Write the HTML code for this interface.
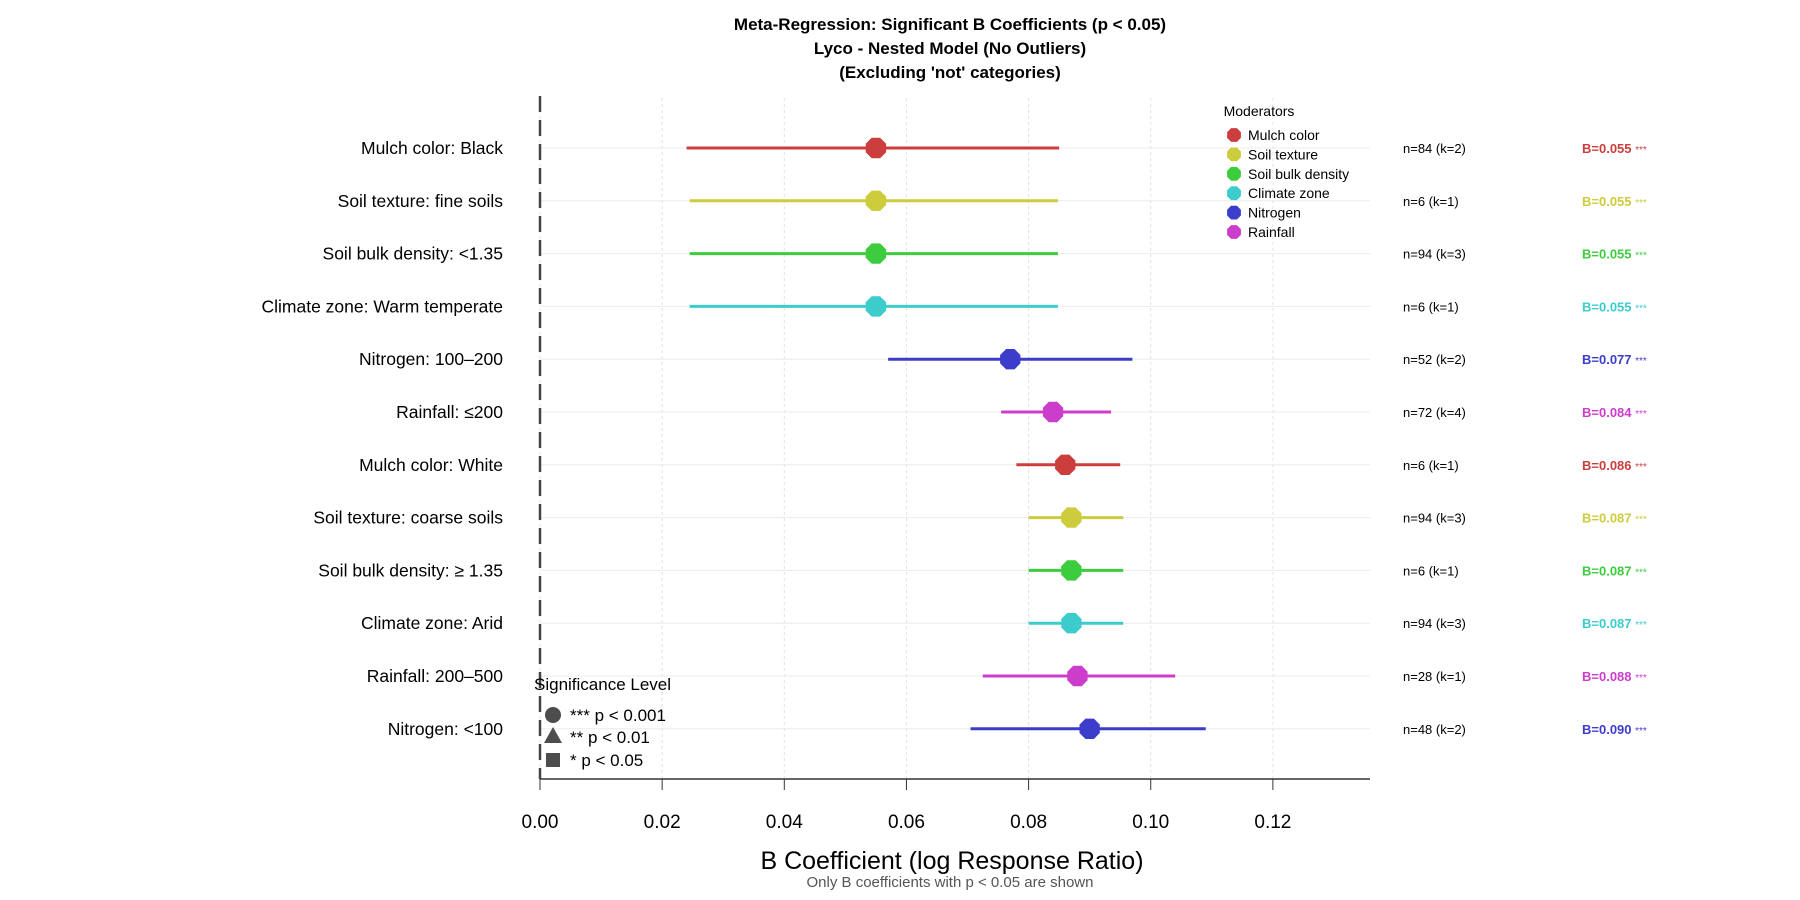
<!DOCTYPE html>
<html><head><meta charset="utf-8"><style>
body{margin:0;background:#fff;}
svg{display:block;font-family:"Liberation Sans",sans-serif;}
</style></head><body>
<svg id="chart" width="1800" height="900" viewBox="0 0 1800 900">
<g font-weight="bold" font-size="17" text-anchor="middle" fill="#000">
<text x="950" y="30">Meta-Regression: Significant B Coefficients (p &lt; 0.05)</text>
<text x="950" y="54">Lyco - Nested Model (No Outliers)</text>
<text x="950" y="78">(Excluding 'not' categories)</text>
</g>
<g id="grid"></g>
<g id="marks"></g>
<g id="axis"></g>
<text x="952" y="869" font-size="25" text-anchor="middle" fill="#000">B Coefficient (log Response Ratio)</text>
<text x="950" y="887" font-size="15" text-anchor="middle" fill="#555">Only B coefficients with p &lt; 0.05 are shown</text>
<g id="modlegend">
<text x="1259" y="116" font-size="14" text-anchor="middle" fill="#000">Moderators</text>
</g>
<g font-size="17" fill="#000">
<text x="534" y="690">Significance Level</text>
<circle cx="553" cy="715" r="8" fill="#4d4d4d"/>
<text x="570" y="721">*** p &lt; 0.001</text>
<polygon points="553,727 544,743 562,743" fill="#4d4d4d"/>
<text x="570" y="743">** p &lt; 0.01</text>
<rect x="546" y="753" width="14" height="14" fill="#4d4d4d"/>
<text x="570" y="766">* p &lt; 0.05</text>
</g>
</svg>
<script>
const labels=["Mulch color: Black","Soil texture: fine soils","Soil bulk density: <1.35","Climate zone: Warm temperate","Nitrogen: 100–200","Rainfall: ≤200","Mulch color: White","Soil texture: coarse soils","Soil bulk density: ≥ 1.35","Climate zone: Arid","Rainfall: 200–500","Nitrogen: <100"];
const groups=[0,1,2,3,4,5,0,1,2,3,5,4];
const estimates=[0.055,0.055,0.055,0.055,0.077,0.084,0.086,0.087,0.087,0.087,0.088,0.090];
const lower=[0.024,0.0245,0.0245,0.0245,0.057,0.0755,0.078,0.080,0.080,0.080,0.0725,0.0705];
const upper=[0.085,0.0848,0.0848,0.0848,0.097,0.0935,0.095,0.0955,0.0955,0.0955,0.104,0.109];
const nText=["n=84 (k=2)","n=6 (k=1)","n=94 (k=3)","n=6 (k=1)","n=52 (k=2)","n=72 (k=4)","n=6 (k=1)","n=94 (k=3)","n=6 (k=1)","n=94 (k=3)","n=28 (k=1)","n=48 (k=2)"];
const groupNames=["Mulch color","Soil texture","Soil bulk density","Climate zone","Nitrogen","Rainfall"];
const groupColors=["#CC3D3D","#CCCC3D","#3DCC3D","#3DCCCC","#3D3DCC","#CC3DCC"];
const xTicks=[0,0.02,0.04,0.06,0.08,0.10,0.12];
const xTickLabels=["0.00","0.02","0.04","0.06","0.08","0.10","0.12"];

const NS="http://www.w3.org/2000/svg";
const X0=540,X1=1370,XMIN=0,XMAX=0.1359;
const xs=v=>X0+(v-XMIN)/(XMAX-XMIN)*(X1-X0);
const ys=i=>148+i*52.8;
const AXY=779;
function mk(tag,attrs,parent,txt){const e=document.createElementNS(NS,tag);for(const k in attrs)e.setAttribute(k,attrs[k]);if(txt!==undefined)e.textContent=txt;parent.appendChild(e);return e;}
function oct(cx,cy,r){let p=[];for(let k=0;k<8;k++){const a=Math.PI/8+k*Math.PI/4;p.push((cx+r*Math.cos(a)).toFixed(1)+","+(cy+r*Math.sin(a)).toFixed(1));}return p.join(" ");}
const grid=document.getElementById('grid'),marks=document.getElementById('marks'),axis=document.getElementById('axis');
xTicks.forEach((t,i)=>{
 const g=mk('line',{x1:xs(t),x2:xs(t),y1:98,y2:AXY,stroke:'#e2e2e2','stroke-dasharray':'3,3'},grid);
 
 
 const tk=mk('line',{x1:xs(t),x2:xs(t),y1:AXY,y2:AXY+11,stroke:'#333'},axis);
 
 
 const tl=mk('text',{x:xs(t),y:AXY+49,'font-size':19,'text-anchor':'middle',fill:'#000'},axis,xTickLabels[i]);
 
 
});
labels.forEach((l,i)=>{
 const y=ys(i);
 const hl=mk('line',{x1:X0,x2:X1,y1:y,y2:y,stroke:'#ececec'},grid);
 
 
 const t=mk('text',{x:503,y:y+6,'font-size':17.5,'text-anchor':'end',fill:'#000'},grid,l);
 
 
});
const z=mk('line',{x1:X0,x2:X0,y1:96,y2:AXY,stroke:'#444','stroke-width':2.5,'stroke-dasharray':'16,8'},marks);


const ax=mk('line',{x1:X0,x2:X1,y1:AXY,y2:AXY,stroke:'#333','stroke-width':1.5},axis);


labels.forEach((l,i)=>{
 const y=ys(i),c=groupColors[groups[i]];
 const ci=mk('line',{x1:xs(lower[i]),x2:xs(upper[i]),y1:y,y2:y,stroke:c,'stroke-width':3},marks);
 
 
 const p=mk('polygon',{points:oct(xs(estimates[i]),y,11),fill:c},marks);
 
 
 const n=mk('text',{x:1403,y:y+5,'font-size':13,fill:'#000'},marks,nText[i]);
 
 
 const b=mk('text',{x:1582,y:y+5,'font-size':13,'font-weight':'bold',fill:c},marks);
 
 
 mk('tspan',{},b,"B="+estimates[i].toFixed(3)+" ");
 mk('tspan',{'font-size':10,'font-weight':'normal'},b,"***");
});
const ml=document.getElementById('modlegend');
groupNames.forEach((g,i)=>{
 const y=135+i*19.4;
 const d=mk('polygon',{points:oct(1234,y,7.5),fill:groupColors[i]},ml);
 
 
 const t=mk('text',{x:1248,y:y+5,'font-size':14,fill:'#000'},ml,g);
 
 
});
</script>
</body></html>
